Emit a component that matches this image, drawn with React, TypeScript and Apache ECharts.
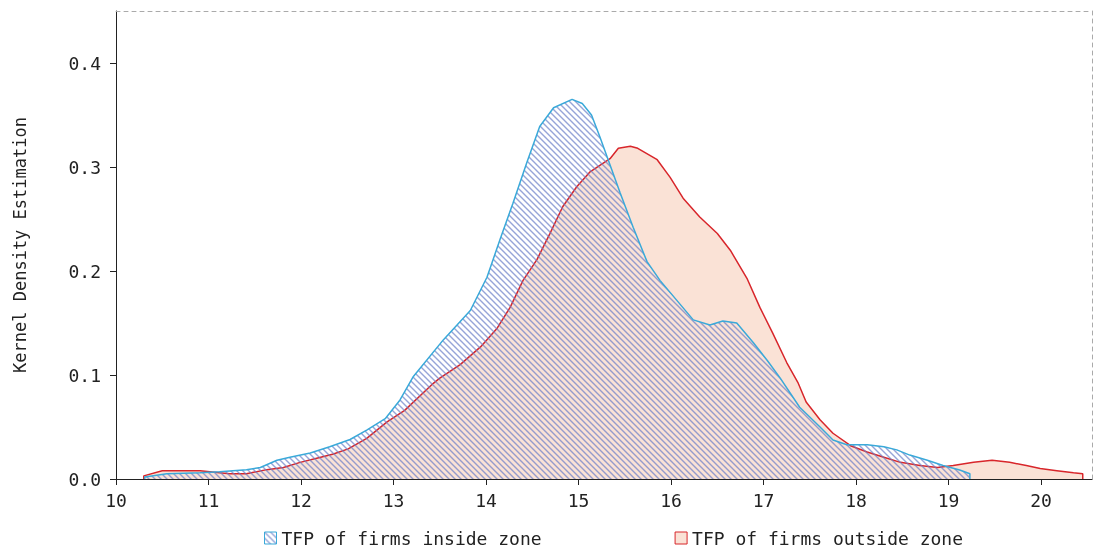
import React, { useEffect, useRef } from "react";
import * as echarts from "echarts";

const xTicks = [10, 11, 12, 13, 14, 15, 16, 17, 18, 19, 20];
const yTicks = [0, 0.1, 0.2, 0.3, 0.4];
const xMin = 10;
const xMax = 20.55;
const yMin = 0;
const yMax = 0.45;

const insideName = "TFP of firms inside zone";
const outsideName = "TFP of firms outside zone";

const insideX = [10.31, 10.31, 10.55, 10.91, 11.12, 11.41, 11.56, 11.74, 11.88, 12.1, 12.31, 12.53, 12.71, 12.91, 13.07, 13.21, 13.54, 13.83, 14.01, 14.15, 14.29, 14.44, 14.58, 14.73, 14.93, 15.04, 15.14, 15.23, 15.32, 15.45, 15.59, 15.74, 15.88, 16.06, 16.24, 16.42, 16.56, 16.71, 16.89, 17.04, 17.18, 17.39, 17.61, 17.75, 17.9, 18.12, 18.3, 18.44, 18.58, 18.77, 18.94, 19.12, 19.23, 19.23];
const insideY = [0, 0.002, 0.005, 0.006, 0.007, 0.009, 0.011, 0.018, 0.021, 0.025, 0.031, 0.038, 0.047, 0.058, 0.076, 0.098, 0.134, 0.162, 0.194, 0.23, 0.265, 0.304, 0.339, 0.357, 0.365, 0.361, 0.35, 0.329, 0.307, 0.275, 0.242, 0.209, 0.191, 0.172, 0.153, 0.148, 0.152, 0.15, 0.131, 0.114, 0.097, 0.069, 0.05, 0.0375, 0.033, 0.033, 0.031, 0.028, 0.023, 0.018, 0.013, 0.0087, 0.005, 0];

const outsideX = [10.3, 10.3, 10.5, 10.91, 11.12, 11.23, 11.41, 11.63, 11.81, 11.99, 12.17, 12.35, 12.51, 12.71, 12.93, 13.12, 13.43, 13.5, 13.72, 13.94, 14.12, 14.26, 14.4, 14.55, 14.69, 14.83, 14.98, 15.12, 15.34, 15.43, 15.56, 15.64, 15.85, 15.99, 16.13, 16.31, 16.5, 16.64, 16.82, 16.96, 17.1, 17.25, 17.37, 17.46, 17.61, 17.75, 17.94, 18.12, 18.3, 18.48, 18.69, 18.88, 19.05, 19.27, 19.47, 19.66, 19.84, 19.99, 20.17, 20.35, 20.45, 20.45];
const outsideY = [0, 0.003, 0.008, 0.008, 0.006, 0.005, 0.005, 0.009, 0.011, 0.016, 0.02, 0.024, 0.029, 0.039, 0.055, 0.066, 0.092, 0.097, 0.11, 0.127, 0.145, 0.165, 0.191, 0.211, 0.236, 0.262, 0.281, 0.295, 0.308, 0.318, 0.32, 0.318, 0.307, 0.29, 0.27, 0.252, 0.236, 0.22, 0.193, 0.165, 0.14, 0.112, 0.093, 0.074, 0.057, 0.044, 0.032, 0.026, 0.021, 0.016, 0.013, 0.011, 0.013, 0.016, 0.018, 0.016, 0.013, 0.01, 0.008, 0.006, 0.005, 0];

const FONT = "'DejaVu Sans Mono', 'Liberation Mono', monospace";

function makeHatch() {
  const s = 6;
  const c = document.createElement("canvas");
  c.width = s;
  c.height = s;
  const ctx = c.getContext("2d")!;
  ctx.strokeStyle = "rgba(105,125,200,0.7)";
  ctx.lineWidth = 1.4;
  ctx.beginPath();
  ctx.moveTo(-1, -1);
  ctx.lineTo(s + 1, s + 1);
  ctx.moveTo(-1, s - 1);
  ctx.lineTo(1, s + 1);
  ctx.moveTo(s - 1, -1);
  ctx.lineTo(s + 1, 1);
  ctx.stroke();
  return c;
}

export default function App() {
  const ref = useRef<HTMLDivElement>(null);
  useEffect(() => {
    if (!ref.current) return;
    const chart = echarts.init(ref.current, null, { renderer: "svg" });
    const hatch = makeHatch();
    const pattern: any = { image: hatch, repeat: "repeat", imageWidth: 6, imageHeight: 6 };
    const blue = "#3aa9d9";
    const red = "#d8262b";
    const salmon = "#fae2d6";
    const inside = insideX.map((x, i) => [x, insideY[i]]);
    const outside = outsideX.map((x, i) => [x, outsideY[i]]);
    chart.setOption({
      animation: false,
      grid: { left: 116, right: 7, top: 11, bottom: 75 },
      legend: {
        bottom: 2,
        left: 259,
        itemGap: 133,
        itemWidth: 12,
        itemHeight: 12,
        textStyle: { fontFamily: FONT, fontSize: 18, color: "#222" },
        data: [
          { name: insideName, icon: "rect", itemStyle: { color: pattern, borderColor: blue, borderWidth: 1 } },
          { name: outsideName, icon: "rect", itemStyle: { color: salmon, borderColor: red, borderWidth: 1 } },
        ],
      },
      xAxis: [
        {
          type: "value",
          min: xMin,
          max: xMax,
          splitLine: { show: false },
          axisLine: { onZero: false, lineStyle: { color: "#222", width: 1 } },
          axisTick: { length: 6, lineStyle: { color: "#222" }, customValues: xTicks },
          axisLabel: { customValues: xTicks, fontFamily: FONT, fontSize: 18, color: "#222", margin: 12 },
        },
        {
          type: "value",
          position: "top",
          min: xMin,
          max: xMax,
          splitLine: { show: false },
          axisLine: { show: true, onZero: false, lineStyle: { color: "#aaa", type: [4, 4] } },
          axisTick: { show: false },
          axisLabel: { show: false },
        },
      ],
      yAxis: [
        {
          type: "value",
          min: yMin,
          max: yMax,
          name: "Kernel Density Estimation",
          nameLocation: "middle",
          nameGap: 88,
          nameTextStyle: { fontFamily: FONT, fontSize: 17, color: "#222" },
          splitLine: { show: false },
          axisLine: { show: true, onZero: false, lineStyle: { color: "#222", width: 1 } },
          axisTick: { show: true, length: 6, lineStyle: { color: "#222" }, customValues: yTicks },
          axisLabel: {
            customValues: yTicks,
            fontFamily: FONT,
            fontSize: 18,
            color: "#222",
            margin: 15,
            formatter: (v: number) => v.toFixed(1),
          },
        },
        {
          type: "value",
          position: "right",
          min: yMin,
          max: yMax,
          splitLine: { show: false },
          axisLine: { show: true, onZero: false, lineStyle: { color: "#aaa", width: 1, type: [4, 4] } },
          axisTick: { show: false },
          axisLabel: { show: false },
        },
      ],
      series: [
        {
          name: outsideName,
          type: "line",
          data: outside,
          showSymbol: false,
          symbol: "none",
          lineStyle: { color: red, width: 1.5 },
          itemStyle: { color: red },
          areaStyle: { color: salmon, opacity: 1 },
          z: 2,
        },
        {
          name: insideName,
          type: "line",
          data: inside,
          showSymbol: false,
          symbol: "none",
          lineStyle: { color: blue, width: 1.5 },
          itemStyle: { color: blue },
          areaStyle: { color: pattern, opacity: 1 },
          z: 3,
        },
      ],
    });
    return () => chart.dispose();
  }, []);
  return <div ref={ref} style={{ position: "fixed", left: 0, top: 0, width: 1099, height: 554 }} />;
}
